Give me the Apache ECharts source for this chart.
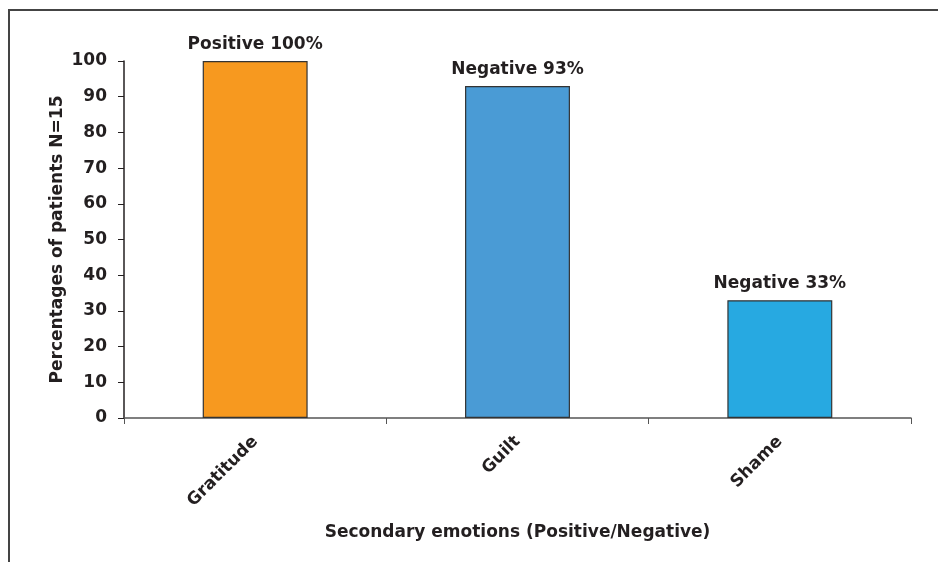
<!DOCTYPE html>
<html><head><meta charset="utf-8">
<script src="https://cdn.jsdelivr.net/npm/echarts@6/dist/echarts.min.js"></script>
<style>html,body{margin:0;padding:0;background:#fff}#c{width:938px;height:562px}</style>
</head><body><div id="c"></div>
<script>
const categories = ['Gratitude', 'Guilt', 'Shame'];
const values = [100, 93, 33];
const valenceLabels = ['Positive 100%', 'Negative 93%', 'Negative 33%'];
const barColors = ['#F7991F', '#4A9BD5', '#27A9E1'];
const yTitle = 'Percentages of patients N=15';
const xTitle = 'Secondary emotions (Positive/Negative)';

const font = "'DejaVu Sans', Verdana, sans-serif";
const fs = 17;
const chart = echarts.init(document.getElementById('c'));
chart.setOption({
  animation: false,
  backgroundColor: '#fff',
  grid: { left: 124, right: 27, top: 61, bottom: 144, containLabel: false },
  graphic: [{
    type: 'polyline',
    shape: { points: [[9, 562], [9, 10], [938, 10]] },
    style: { stroke: '#444', lineWidth: 2, fill: null }
  }],
  xAxis: {
    type: 'category',
    data: categories,
    name: xTitle,
    nameLocation: 'middle',
    nameGap: 106,
    nameMoveOverlap: false,
    nameTextStyle: { fontFamily: font, fontWeight: 'bold', fontSize: fs, color: '#231f20' },
    axisLine: { lineStyle: { color: '#555', width: 1.5 } },
    axisTick: { show: true, alignWithLabel: false, length: 6, lineStyle: { color: '#555' } },
    axisLabel: { rotate: 45, margin: 21, fontFamily: font, fontWeight: 'bold', fontSize: fs, color: '#231f20' }
  },
  yAxis: {
    type: 'value',
    min: 0, max: 100, interval: 10,
    name: yTitle,
    nameLocation: 'middle',
    nameGap: 58,
    nameMoveOverlap: false,
    nameTextStyle: { fontFamily: font, fontWeight: 'bold', fontSize: fs, color: '#231f20' },
    axisLine: { show: true, lineStyle: { color: '#231f20', width: 1.5 } },
    axisTick: { show: true, length: 6, lineStyle: { color: '#231f20' } },
    axisLabel: { margin: 17, fontFamily: font, fontWeight: 'bold', fontSize: fs, color: '#231f20' },
    splitLine: { show: false }
  },
  series: [{
    type: 'bar',
    barWidth: '40%',
    data: values.map((v, i) => ({
      value: v,
      itemStyle: { color: barColors[i], borderColor: '#333', borderWidth: 1.2 },
      label: { show: true, position: 'top', distance: 8, formatter: valenceLabels[i],
        fontFamily: font, fontWeight: 'bold', fontSize: fs, color: '#231f20' }
    }))
  }]
});
</script></body></html>
